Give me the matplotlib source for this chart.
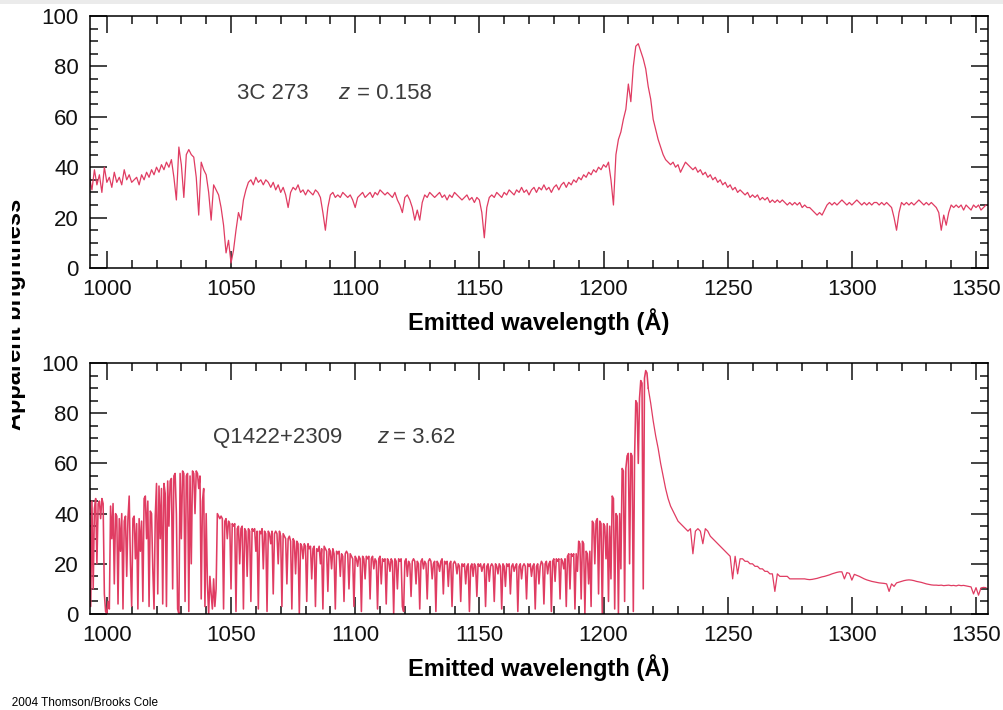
import numpy as np
import matplotlib.pyplot as plt
from matplotlib.ticker import MultipleLocator
from matplotlib.patches import Rectangle

plt.rcParams['font.family'] = ['Liberation Sans', 'DejaVu Sans']

# 3C 273, 1 A bins from 993 A
wave_3c273 = np.arange(993, 1355, 1.0)
flux_3c273 = [
    36, 31, 39, 33, 37, 30, 40, 34, 36, 32,
    38, 34, 36, 33, 39, 35, 37, 34, 35, 36,
    33, 37, 35, 38, 36, 39, 37, 40, 38, 41,
    39, 42, 40, 43, 36, 27, 48, 41, 28, 45,
    47, 45, 44, 36, 21, 42, 39, 37, 30, 19,
    33, 31, 29, 24, 17, 6, 11, 2, 7, 15,
    22, 19, 27, 31, 34, 35, 33, 36, 34, 35,
    33, 35, 34, 32, 34, 31, 33, 30, 32, 29,
    24, 30, 32, 31, 33, 30, 31, 29, 31, 30,
    29, 31, 30, 28, 22, 15, 24, 29, 30, 28,
    29, 28, 30, 29, 28, 29, 27, 24, 28, 29,
    30, 28, 29, 30, 28, 30, 29, 31, 30, 29,
    30, 29, 28, 30, 27, 25, 22, 28, 29, 27,
    24, 19, 23, 19, 26, 29, 28, 30, 29, 28,
    29, 30, 28, 29, 27, 29, 28, 30, 29, 28,
    27, 28, 29, 27, 28, 26, 28, 27, 22, 12,
    24, 28, 29, 28, 30, 29, 28, 30, 29, 31,
    30, 29, 31, 30, 32, 30, 31, 29, 31, 32,
    30, 32, 31, 33, 31, 32, 30, 32, 33, 31,
    33, 34, 32, 34, 33, 35, 34, 36, 35, 37,
    36, 38, 37, 39, 38, 40, 39, 41, 40, 42,
    35, 25, 45, 51, 54, 59, 63, 73, 66, 80,
    88, 89, 86, 83, 79, 72, 67, 59, 55, 51,
    48, 45, 43, 42, 41, 42, 40, 41, 38, 40,
    42, 41, 40, 39, 40, 38, 39, 37, 38, 36,
    37, 35, 36, 34, 35, 33, 34, 32, 33, 31,
    32, 30, 31, 30, 29, 30, 28, 29, 28, 29,
    27, 28, 27, 28, 26, 27, 26, 27, 26, 27,
    26, 25, 26, 25, 26, 25, 26, 24, 25, 24,
    24, 23, 22, 21, 22, 21, 23, 25, 26, 25,
    26, 25, 26, 27, 26, 25, 26, 25, 26, 27,
    26, 25, 26, 25, 26, 25, 26, 26, 25, 26,
    25, 26, 25, 24, 20, 15, 22, 26, 25, 26,
    25, 26, 25, 26, 27, 26, 25, 26, 25, 26,
    25, 24, 22, 15, 21, 17, 22, 25, 24, 25,
    24, 25, 23, 25, 24, 23, 25, 24, 25, 23,
    24, 25,
]

# Q1422+2309, Lyman-alpha forest side in 0.5 A bins
wave_q_forest = np.arange(993, 1218, 0.5)
flux_q_forest = [
    44, 3, 45, 10, 42, 46, 20, 44, 45, 38,
    46, 44, 8, 1, 0, 5, 2, 43, 30, 44,
    12, 40, 39, 4, 38, 25, 40, 2, 37, 39,
    15, 38, 47, 20, 3, 38, 39, 22, 36, 2,
    38, 25, 37, 5, 46, 47, 30, 45, 3, 41,
    40, 18, 2, 39, 52, 8, 51, 30, 50, 4,
    52, 48, 3, 53, 35, 53, 54, 10, 55, 56,
    40, 2, 0, 56, 30, 57, 56, 5, 55, 56,
    1, 55, 20, 57, 56, 40, 57, 56, 50, 55,
    6, 45, 50, 3, 40, 12, 0, 15, 8, 2,
    14, 3, 10, 40, 39, 38, 39, 38, 2, 37,
    38, 30, 37, 36, 10, 36, 35, 36, 1, 34,
    35, 20, 34, 35, 2, 34, 33, 15, 34, 33,
    5, 34, 33, 34, 25, 33, 2, 33, 32, 34,
    18, 33, 32, 1, 33, 32, 28, 33, 8, 32,
    33, 32, 20, 33, 31, 3, 32, 31, 30, 12,
    30, 31, 29, 2, 30, 29, 16, 29, 28, 0,
    28, 27, 22, 28, 27, 5, 28, 26, 27, 14,
    26, 27, 3, 26, 25, 27, 20, 26, 2, 27,
    26, 25, 9, 26, 25, 18, 26, 24, 2, 25,
    24, 25, 15, 24, 23, 5, 24, 25, 24, 10,
    24, 23, 22, 3, 23, 22, 19, 23, 22, 1,
    23, 22, 14, 23, 22, 23, 6, 22, 23, 18,
    22, 21, 2, 22, 23, 12, 22, 21, 22, 4,
    22, 21, 17, 22, 21, 0, 22, 21, 10, 22,
    21, 22, 3, 1, 21, 22, 15, 21, 20, 7,
    21, 22, 21, 12, 21, 20, 2, 21, 22, 18,
    21, 20, 6, 21, 22, 21, 14, 20, 21, 1,
    21, 20, 17, 21, 22, 8, 21, 20, 21, 11,
    20, 21, 3, 20, 21, 20, 16, 20, 19, 5,
    20, 19, 20, 12, 19, 20, 1, 19, 20, 15,
    20, 19, 7, 20, 19, 20, 17, 19, 20, 3,
    19, 20, 13, 19, 20, 19, 5, 20, 19, 16,
    20, 19, 2, 20, 19, 11, 20, 19, 20, 8,
    19, 20, 17, 19, 20, 1, 19, 20, 14, 19,
    20, 19, 6, 20, 19, 20, 15, 19, 20, 2,
    19, 20, 12, 19, 21, 20, 4, 20, 21, 16,
    20, 21, 1, 21, 22, 13, 22, 21, 22, 6,
    22, 21, 18, 22, 3, 23, 24, 10, 24, 23,
    24, 2, 24, 17, 29, 28, 6, 29, 28, 0,
    25, 24, 12, 25, 3, 37, 36, 20, 37, 38,
    8, 37, 36, 0, 36, 35, 22, 36, 5, 35,
    14, 47, 46, 2, 40, 39, 0, 40, 18, 58,
    57, 5, 58, 63, 64, 20, 64, 63, 1, 62,
    85, 84, 60, 86, 93, 92, 10, 94, 97, 96,
]

# Q1422+2309, red side of Lyman alpha in 1 A bins
wave_q_red = np.arange(1218, 1355, 1.0)
flux_q_red = [
    90, 84, 77, 71, 66, 60, 55, 50, 46, 43,
    41, 39, 37, 36, 35, 34, 33, 34, 24, 33,
    34, 33, 28, 34, 33, 31, 30, 29, 28, 27,
    26, 25, 24, 23, 14, 23, 16, 22, 22, 21,
    21, 20, 20, 19, 19, 18, 18, 17, 17, 16,
    16, 9, 16, 15, 15, 15, 15, 14, 14, 14,
    14, 14, 14, 14, 13.8, 13.7, 13.8, 14, 14.2, 14.5,
    14.8, 15, 15.3, 15.6, 16, 16.3, 16.6, 16.8, 16.8, 14,
    16.5, 16.2, 13.5, 15.8, 15.4, 15, 14.5, 14, 13.6, 13.3,
    13, 12.8, 12.6, 12.4, 12.3, 12.2, 12, 9, 12, 11,
    12.4, 12.7, 13, 13.3, 13.5, 13.6, 13.5, 13.3, 13, 12.8,
    12.6, 12.3, 12, 11.8, 11.6, 11.5, 11.5, 11.4, 11.5, 11.3,
    11.4, 11.5, 11.3, 11.4, 11.2, 11.5, 11.3, 11.4, 11.2, 11,
    10.8, 8, 10.5, 7.5, 10.4, 10.6, 10.5,
]

line_color = '#e03c62'
text_color = '#3c3c3c'

fig = plt.figure(figsize=(10.04, 7.10), dpi=100)
ax1 = fig.add_axes([0.0896, 0.6225, 0.8944, 0.3550])
ax2 = fig.add_axes([0.0896, 0.1352, 0.8944, 0.3535])

ax1.plot(wave_3c273, flux_3c273, color=line_color, lw=0.9)
# forest drawn heavier so the dense absorption lines read as a filled band
ax2.plot(np.append(wave_q_forest, wave_q_red[0]), flux_q_forest + flux_q_red[:1],
         color=line_color, lw=1.15)
ax2.plot(wave_q_red, flux_q_red, color=line_color, lw=0.9)

for ax in (ax1, ax2):
    ax.set_xlim(993.2, 1354.8)
    ax.set_ylim(0, 100)
    ax.xaxis.set_major_locator(MultipleLocator(50))
    ax.xaxis.set_minor_locator(MultipleLocator(10))
    ax.yaxis.set_major_locator(MultipleLocator(20))
    ax.yaxis.set_minor_locator(MultipleLocator(5))
    ax.tick_params(which='both', direction='in', top=True, right=True,
                   width=1.1, labelsize=16, colors='#111111')
    ax.tick_params(which='major', length=12)
    ax.tick_params(which='minor', length=5.5)
    ax.tick_params(axis='x', pad=8)
    ax.tick_params(axis='y', pad=8)
    for s in ax.spines.values():
        s.set_linewidth(1.1)
    ax.set_xlabel('Emitted wavelength (Å)', fontsize=17, fontweight='bold', labelpad=6)

# object names and redshifts
ax1.text(1052.4, 69.4, '3C 273', fontsize=16, color=text_color, va='center')
ax1.text(1093.1, 69.4, 'z', fontsize=16, color=text_color, va='center', style='italic')
ax1.text(1100.8, 69.4, '= 0.158', fontsize=16, color=text_color, va='center')
ax2.text(1042.7, 70.5, 'Q1422+2309', fontsize=16, color=text_color, va='center')
ax2.text(1108.8, 70.5, 'z', fontsize=16, color=text_color, va='center', style='italic')
ax2.text(1115.3, 70.5, '= 3.62', fontsize=16, color=text_color, va='center')

fig.text(26 / 1004, 1 - 314 / 710, 'Apparent brightness', rotation=90,
         fontsize=17, fontweight='bold', ha='right', va='center')
fig.text(0.0, 1 - 703 / 710, '© 2004 Thomson/Brooks Cole', fontsize=8.5,
         ha='left', va='center')

# cropped left margin and thin grey strip on top
fig.patches.append(Rectangle((0, 0), 12.5 / 1004, 1 - 5 / 710, transform=fig.transFigure,
                             facecolor='white', edgecolor='none', zorder=10))
fig.patches.append(Rectangle((0, 1 - 4 / 710), 1, 4 / 710, transform=fig.transFigure,
                             facecolor='#ebebeb', edgecolor='none', zorder=10))

fig.savefig('out.png', dpi=100)
